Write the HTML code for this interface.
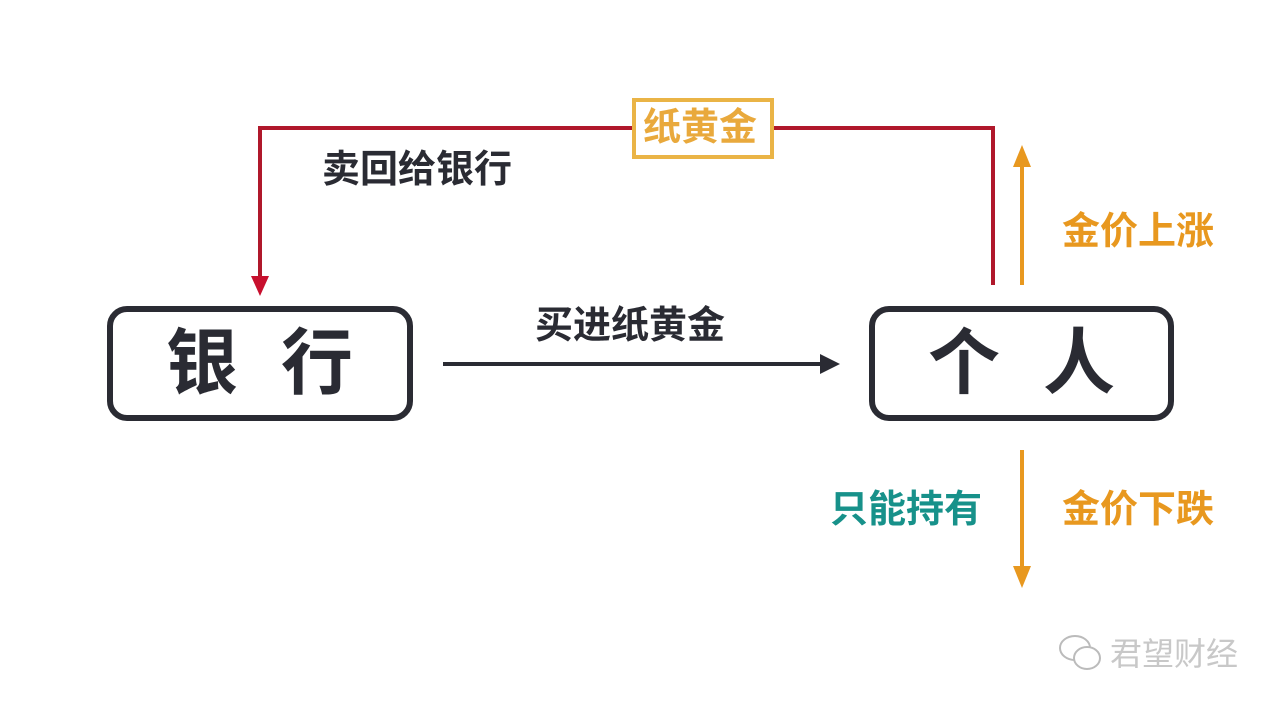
<!DOCTYPE html>
<html><head><meta charset="utf-8"><style>
html,body{margin:0;padding:0;background:#fff;}
#c{position:relative;width:1280px;height:711px;overflow:hidden;background:#fff;font-family:"Liberation Sans","Noto Sans CJK SC",sans-serif;font-weight:bold;}
.t{position:absolute;white-space:nowrap;line-height:1;}
.box{position:absolute;border:6px solid #2a2b33;border-radius:20px;box-sizing:border-box;}
</style></head><body><div id="c">
<svg width="1280" height="711" style="position:absolute;left:0;top:0">
<polyline points="993,285 993,128 260,128 260,278" fill="none" stroke="#b0182b" stroke-width="4"/>
<polygon points="251,276 269,276 260,296" fill="#c8102e"/>
<line x1="443" y1="364" x2="822" y2="364" stroke="#2a2b33" stroke-width="4"/>
<polygon points="820,354 840,364 820,374" fill="#2a2b33"/>
<line x1="1022" y1="285" x2="1022" y2="165" stroke="#e8981f" stroke-width="4"/>
<polygon points="1013,167 1031,167 1022,145" fill="#e8981f"/>
<line x1="1022" y1="450" x2="1022" y2="568" stroke="#e8981f" stroke-width="4"/>
<polygon points="1013,566 1031,566 1022,588" fill="#e8981f"/>
<rect x="634" y="100" width="138" height="57" fill="#fff" stroke="#eab446" stroke-width="4"/>
</svg>
<div class="t" style="left:643px;top:109px;font-size:38px;color:#e9a93c;">纸黄金</div>
<div class="t" style="left:322px;top:151px;font-size:38px;color:#2a2b33;">卖回给银行</div>
<div class="t" style="left:535px;top:307px;font-size:38px;color:#2a2b33;">买进纸黄金</div>
<div class="box" style="left:107px;top:306px;width:306px;height:115px;"></div>
<div class="t" style="left:166px;top:328px;font-size:72px;color:#2a2b33;letter-spacing:43px;">银行</div>
<div class="box" style="left:869px;top:306px;width:305px;height:115px;"></div>
<div class="t" style="left:928px;top:328px;font-size:72px;color:#2a2b33;letter-spacing:43px;">个人</div>
<div class="t" style="left:1062px;top:213px;font-size:38px;color:#e8981f;">金价上涨</div>
<div class="t" style="left:830px;top:491px;font-size:38px;color:#17918a;">只能持有</div>
<div class="t" style="left:1062px;top:491px;font-size:38px;color:#e8981f;">金价下跌</div>
<svg width="60" height="50" style="position:absolute;left:1055px;top:630px">
<ellipse cx="20" cy="18" rx="15" ry="12" fill="none" stroke="#bbb" stroke-width="2"/>
<ellipse cx="32" cy="28" rx="13" ry="11" fill="#fff" stroke="#bbb" stroke-width="2"/>
</svg>
<div class="t" style="left:1110px;top:638px;font-size:32px;color:#c8c8c8;font-weight:normal;">君望财经</div>
</div></body></html>
